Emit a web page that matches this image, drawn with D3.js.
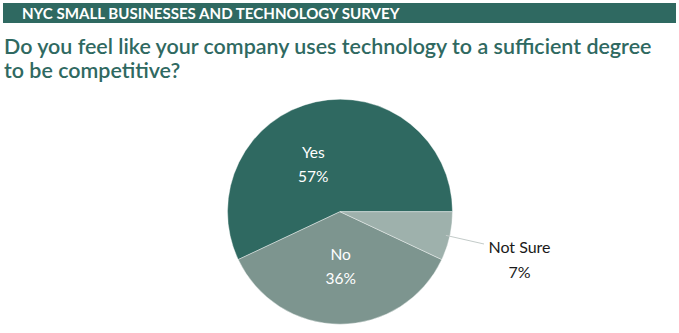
<!DOCTYPE html>
<html><head><meta charset="utf-8">
<script src="https://cdn.jsdelivr.net/npm/d3@7"></script>
<style>html,body{margin:0;padding:0;background:#fff;}</style>
</head><body>
<svg id="chart" width="679" height="333"></svg>
<script>
const headerText = "NYC SMALL BUSINESSES AND TECHNOLOGY SURVEY";
const titleLines = ["Do you feel like your company uses technology to a sufficient degree", "to be competitive?"];
const categories = ["Yes", "No", "Not Sure"];
const values = [57, 36, 7];
const colors = ["#2f6961", "#7d958f", "#9eb1ac"];

const svg = d3.select("#chart");
const font = "Lato, 'Open Sans', sans-serif";

// header bar
svg.append("rect").attr("x", 3).attr("y", 3).attr("width", 673).attr("height", 20).attr("fill", "#2f6961");
const ht = svg.append("text").attr("x", 22).attr("y", 19).attr("fill", "#fff")
  .style("font-family", font).style("font-weight", "700").style("font-size", "14px").text(headerText);
function fitWidth(sel, target, base) {
  const w = sel.node().getComputedTextLength();
  sel.style("font-size", (base * target / w) + "px");
}
fitWidth(ht, 378, 14);

const tl = svg.append("g");
titleLines.forEach((t, i) => {
  const el = tl.append("text").attr("x", 4).attr("y", 53.5 + i * 24).attr("fill", "#2f6961")
    .style("font-family", font).style("font-weight", "600").style("font-size", "21px").text(t);
  if (i === 0) fitWidth(el, 648, 21);
});
const fs = tl.select("text").style("font-size");
tl.selectAll("text").style("font-size", fs);

// pie
const cx = 340, cy = 211.7, r = 112.5;
const data = categories.map((c, i) => ({cat: c, val: values[i], color: colors[i]}));
const pie = d3.pie().value(d => d.val).sort(null)
  .startAngle(Math.PI / 2).endAngle(Math.PI / 2 - 2 * Math.PI);
const arcs = pie(data);
const arc = d3.arc().innerRadius(0).outerRadius(r);
const g = svg.append("g").attr("transform", `translate(${cx},${cy})`);
g.selectAll("path").data(arcs).enter().append("path")
  .attr("d", arc).attr("fill", d => d.data.color)
  .attr("stroke", "#ffffff").attr("stroke-width", 0.4);

// inside labels
const inside = [{i: 0, x: 313.3 - cx, y: 157.5 - cy}, {i: 1, x: 340.7 - cx, y: 260 - cy}];
inside.forEach(o => {
  const d = arcs[o.i];
  const t = g.append("text").attr("text-anchor", "middle").attr("fill", "#fff")
    .style("font-family", font).style("font-size", "15.5px");
  t.append("tspan").attr("x", o.x).attr("y", o.y).text(d.data.cat);
  t.append("tspan").attr("x", o.x).attr("y", o.y + 24.5).text(d.data.val + "%");
});

// outside label for Not Sure
const ns = arcs[2];
const mid = (ns.startAngle + ns.endAngle) / 2;
const p0 = [Math.sin(mid) * (r - 4), -Math.cos(mid) * (r - 4)];
g.append("line").attr("x1", p0[0]).attr("y1", p0[1])
  .attr("x2", 484 - cx).attr("y2", 244 - cy)
  .attr("stroke", "#c3cbc9").attr("stroke-width", 1);
const ot = g.append("text").attr("text-anchor", "middle").attr("fill", "#1a1a1a")
  .style("font-family", font).style("font-size", "16px");
ot.append("tspan").attr("x", 519.5 - cx).attr("y", 253 - cy).text(ns.data.cat);
ot.append("tspan").attr("x", 519.5 - cx).attr("y", 278 - cy).text(ns.data.val + "%");
</script>
</body></html>
